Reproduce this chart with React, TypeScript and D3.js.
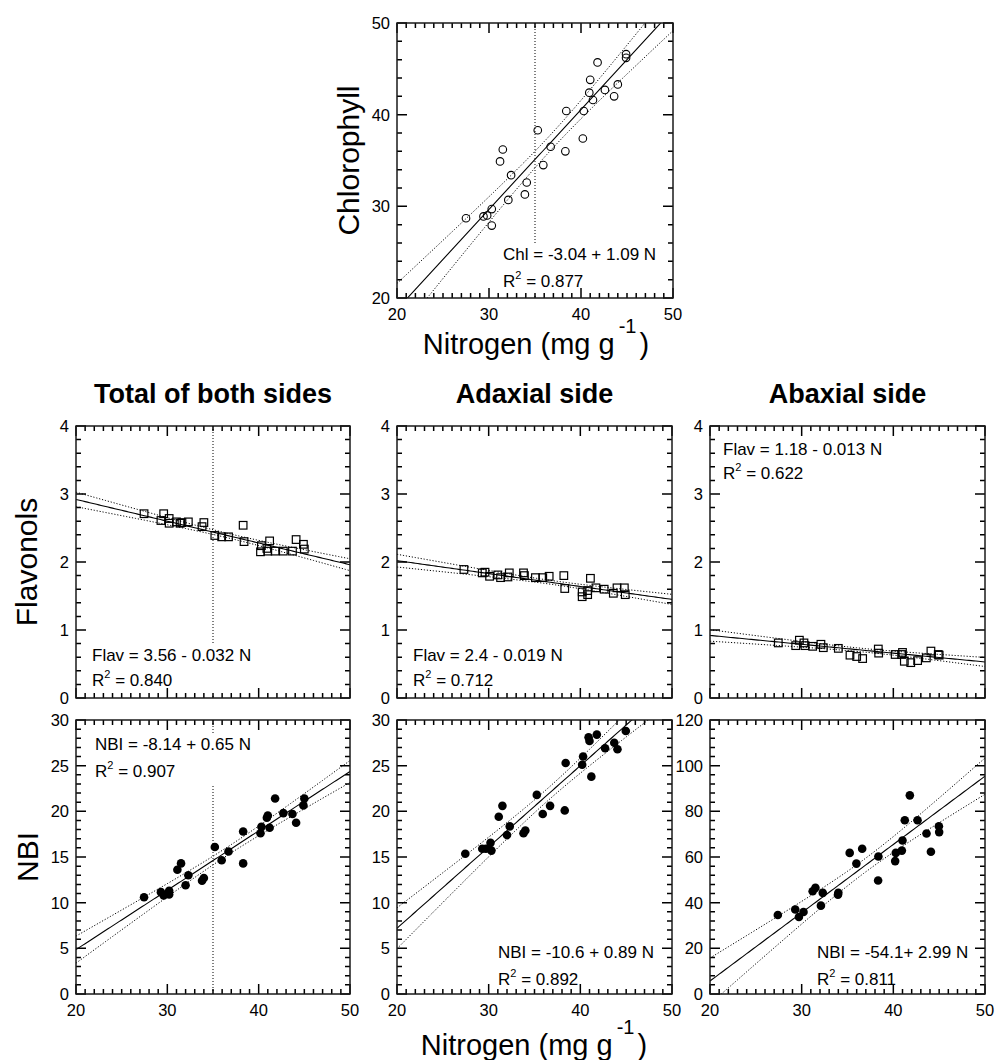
import React from 'react';
import * as d3 from 'd3';

const FONT = "'Liberation Sans', Arial, Helvetica, sans-serif";

// ---------- data ----------
const nChl = [27.5, 29.4, 29.8, 30.3, 30.3, 31.2, 31.5, 32.1, 32.4, 33.9, 34.1, 35.3, 35.9, 36.7, 38.3, 38.4, 40.2, 40.3, 40.9, 41.0, 41.3, 41.8, 42.6, 43.6, 44.0, 44.9, 44.9];
const chl = [28.7, 28.9, 29.0, 29.7, 27.9, 34.9, 36.2, 30.7, 33.4, 31.3, 32.6, 38.3, 34.5, 36.5, 36.0, 40.4, 37.4, 40.4, 42.4, 43.8, 41.6, 45.7, 42.7, 42.0, 43.3, 46.2, 46.6];

const nFlavTotal = [27.45, 29.3, 29.6, 30.2, 30.2, 31.0, 31.4, 31.6, 32.3, 33.8, 34.0, 35.2, 35.95, 36.7, 38.3, 38.4, 40.2, 40.3, 40.9, 41.2, 41.0, 41.8, 42.7, 43.7, 44.1, 44.9, 45.0];
const flavTotal = [2.71, 2.61, 2.71, 2.64, 2.57, 2.59, 2.57, 2.58, 2.59, 2.52, 2.58, 2.39, 2.37, 2.37, 2.54, 2.30, 2.15, 2.24, 2.20, 2.31, 2.16, 2.16, 2.16, 2.16, 2.33, 2.26, 2.19];

const nFlavAdax = [27.3, 29.3, 29.6, 30.1, 31.0, 31.3, 32.1, 32.25, 33.8, 33.9, 35.1, 35.9, 36.6, 38.2, 38.3, 40.2, 40.2, 40.8, 40.8, 41.1, 41.7, 42.6, 43.6, 44.0, 44.8, 44.9];
const flavAdax = [1.89, 1.84, 1.85, 1.79, 1.81, 1.77, 1.78, 1.84, 1.84, 1.80, 1.77, 1.77, 1.79, 1.80, 1.61, 1.56, 1.49, 1.58, 1.52, 1.76, 1.62, 1.60, 1.54, 1.62, 1.62, 1.52];

const nFlavAbax = [27.45, 29.35, 29.75, 30.25, 30.36, 31.2, 32.1, 32.36, 34.0, 35.27, 36.0, 36.65, 38.36, 38.4, 40.2, 40.9, 41.0, 41.2, 41.9, 42.65, 43.6, 44.1, 44.9, 45.0];
const flavAbax = [0.81, 0.77, 0.85, 0.81, 0.77, 0.76, 0.79, 0.74, 0.73, 0.63, 0.61, 0.58, 0.72, 0.66, 0.64, 0.64, 0.67, 0.54, 0.52, 0.55, 0.59, 0.69, 0.64, 0.63];

const nNbiTotal = [27.45, 29.3, 29.6, 30.2, 30.2, 31.1, 31.5, 32.0, 32.3, 33.8, 34.0, 35.2, 35.95, 36.7, 38.3, 38.3, 40.2, 40.3, 40.9, 41.0, 41.2, 41.8, 42.7, 43.7, 44.1, 45.0, 44.9];
const nbiTotal = [10.6, 11.15, 10.8, 11.3, 10.9, 13.6, 14.3, 11.9, 13.0, 12.4, 12.7, 16.1, 14.65, 15.6, 17.8, 14.3, 17.6, 18.3, 19.3, 19.55, 18.2, 21.4, 19.8, 19.7, 18.75, 21.4, 20.65];

const nNbiAdax = [27.45, 29.3, 29.7, 30.2, 30.3, 31.1, 31.5, 32.0, 32.3, 33.8, 34.0, 35.25, 35.9, 36.7, 38.3, 38.4, 40.2, 40.3, 40.9, 41.0, 41.2, 41.8, 42.7, 43.7, 44.05, 44.96];
const nbiAdax = [15.35, 15.9, 15.9, 16.55, 15.7, 19.4, 20.6, 17.4, 18.35, 17.6, 17.9, 21.8, 19.7, 20.6, 20.1, 25.3, 25.1, 26.0, 28.1, 27.7, 23.8, 28.4, 26.9, 27.5, 26.8, 28.8];

const nNbiAbax = [27.4, 29.3, 29.7, 30.2, 31.2, 31.5, 32.1, 32.3, 33.96, 34.0, 35.24, 35.97, 36.6, 38.37, 38.34, 40.2, 40.27, 40.93, 41.0, 41.25, 41.8, 42.64, 43.62, 44.1, 44.97, 45.0];
const nbiAbax = [34.6, 37.0, 33.7, 35.9, 45.0, 46.5, 38.7, 44.3, 43.5, 44.3, 61.8, 57.1, 63.6, 60.2, 49.7, 58.2, 61.8, 62.8, 67.2, 76.1, 87.0, 76.1, 70.3, 62.3, 73.5, 70.9];

// regression coefficients [intercept, slope] as printed
const coefChl = [-3.04, 1.09];
const coefFlavTotal = [3.56, -0.032];
const coefFlavAdax = [2.4, -0.019];
const coefFlavAbax = [1.18, -0.013];
const coefNbiTotal = [-8.14, 0.65];
const coefNbiAdax = [-10.6, 0.89];
const coefNbiAbax = [-54.1, 2.99];

const eqChl = ['Chl = -3.04 + 1.09 N', '0.877'];
const eqFlavTotal = ['Flav = 3.56 - 0.032 N', '0.840'];
const eqFlavAdax = ['Flav = 2.4 - 0.019 N', '0.712'];
const eqFlavAbax = ['Flav = 1.18 - 0.013 N', '0.622'];
const eqNbiTotal = ['NBI = -8.14 + 0.65 N', '0.907'];
const eqNbiAdax = ['NBI = -10.6 + 0.89 N', '0.892'];
const eqNbiAbax = ['NBI = -54.1+ 2.99 N', '0.811'];

const xTickLabels = [20, 30, 40, 50];
const columnTitles = ['Total of both sides', 'Adaxial side', 'Abaxial side'];

type Marker = 'circle' | 'square' | 'dot';

type Box = { x0: number; x1: number; y0: number; y1: number; yDomain: [number, number]; yMajor: number; yMinor: number };

type PanelProps = Box & {
  id: string;
  xs: number[]; ys: number[];
  coef: number[];
  marker: Marker;
  eq: string[];
  eqX: number; eqY: number; eqGap: number;
  vline?: boolean;
  showXLabels?: boolean;
};

function Frame(p: Box) {
  const x = d3.scaleLinear().domain([20, 50]).range([p.x0, p.x1]);
  const y = d3.scaleLinear().domain(p.yDomain).range([p.y1, p.y0]);
  const xTicks = d3.range(20, 50.001, 1);
  const nY = Math.round((p.yDomain[1] - p.yDomain[0]) / p.yMinor);
  const yTicks = d3.range(0, nY + 1).map((k) => p.yDomain[0] + k * p.yMinor);
  const perMaj = Math.round(p.yMajor / p.yMinor);
  const segs: string[] = [];
  xTicks.forEach((v, k) => {
    const L = k % 10 === 0 ? 10 : 5;
    const xx = x(v).toFixed(2);
    segs.push(`M${xx},${p.y1}V${p.y1 - L}`);
    segs.push(`M${xx},${p.y0}V${p.y0 + L}`);
  });
  yTicks.forEach((v, k) => {
    const L = k % perMaj === 0 ? 10 : 5;
    const yy = y(v).toFixed(2);
    segs.push(`M${p.x0},${yy}H${p.x0 + L}`);
    segs.push(`M${p.x1},${yy}H${p.x1 - L}`);
  });
  return (
    <g>
      <path d={segs.join('')} fill="none" stroke="#000" strokeWidth={1.5} />
      <rect x={p.x0} y={p.y0} width={p.x1 - p.x0} height={p.y1 - p.y0} fill="none" stroke="#1a1a1a" strokeWidth={1.5} />
    </g>
  );
}

function Panel(p: PanelProps) {
  const x = d3.scaleLinear().domain([20, 50]).range([p.x0, p.x1]);
  const y = d3.scaleLinear().domain(p.yDomain).range([p.y1, p.y0]);
  const [a, b] = p.coef;
  const n = p.xs.length;
  const xbar = d3.mean(p.xs) as number;
  const sxx = d3.sum(p.xs, (v) => (v - xbar) ** 2);
  const sse = d3.sum(p.xs.map((v, i) => (p.ys[i] - (a + b * v)) ** 2));
  const s = Math.sqrt(sse / (n - 2));
  const t = 2.06;
  const grid = d3.range(20, 50.001, 0.25);
  const fit = (v: number) => a + b * v;
  const half = (v: number) => t * s * Math.sqrt(1 / n + (v - xbar) ** 2 / sxx);
  const mk = (f: (v: number) => number) =>
    d3.line<number>().x((v) => x(v)).y((v) => y(f(v)))(grid) as string;
  const yMajT = d3.range(p.yDomain[0], p.yDomain[1] + 1e-6, p.yMajor);
  const boxW = p.eq[0].length * 8.3 + 6;

  return (
    <g>
      <defs>
        <clipPath id={'clip-' + p.id}>
          <rect x={p.x0} y={p.y0} width={p.x1 - p.x0} height={p.y1 - p.y0} />
        </clipPath>
      </defs>
      <g clipPath={`url(#clip-${p.id})`}>
        {p.vline && (
          <line x1={x(35)} x2={x(35)} y1={p.y0} y2={p.y1} stroke="#000" strokeWidth={1} strokeDasharray="1,2" />
        )}
        <path d={mk((v) => fit(v) + half(v))} fill="none" stroke="#000" strokeWidth={1} strokeDasharray="1.2,1.8" />
        <path d={mk((v) => fit(v) - half(v))} fill="none" stroke="#000" strokeWidth={1} strokeDasharray="1.2,1.8" />
        <path d={mk(fit)} fill="none" stroke="#000" strokeWidth={1.1} />
      </g>
      {p.xs.map((v, i) => {
        const cx = x(v), cy = y(p.ys[i]);
        if (p.marker === 'circle')
          return <circle key={i} cx={cx} cy={cy} r={3.8} fill="none" stroke="#000" strokeWidth={1.1} />;
        if (p.marker === 'square')
          return <rect key={i} x={cx - 3.8} y={cy - 3.8} width={7.6} height={7.6} fill="none" stroke="#000" strokeWidth={1.2} />;
        return <circle key={i} cx={cx} cy={cy} r={4.3} fill="#000" />;
      })}
      <rect x={p.eqX - 3} y={p.eqY - 16} width={boxW} height={p.eqGap + 24} fill="#fff" />
      <text x={p.eqX} y={p.eqY} fontSize={17} fontFamily={FONT} fill="#000">{p.eq[0]}</text>
      <text x={p.eqX} y={p.eqY + p.eqGap} fontSize={17} fontFamily={FONT} fill="#000">
        R<tspan fontSize={11} dy={-8}>2</tspan><tspan dy={8}> = {p.eq[1]}</tspan>
      </text>
      {yMajT.map((v) => (
        <text key={'yl' + v} x={p.x0 - 7} y={y(v)} dy="0.36em" textAnchor="end" fontSize={16.5} fontFamily={FONT} fill="#000">
          {v}
        </text>
      ))}
      {p.showXLabels &&
        xTickLabels.map((v) => (
          <text key={'xl' + v} x={x(v)} y={p.y1 + 22} textAnchor="middle" fontSize={16.5} fontFamily={FONT} fill="#000">
            {v}
          </text>
        ))}
    </g>
  );
}

function XLabel({ cx, y }: { cx: number; y: number }) {
  return (
    <text x={cx} y={y} textAnchor="middle" fontSize={29} fontFamily={FONT} fill="#000">
      Nitrogen (mg g<tspan fontSize={20} dy={-21} dx={4}>-1</tspan><tspan dy={21} dx={3}>)</tspan>
    </text>
  );
}

function YLabel({ x, cy, text }: { x: number; cy: number; text: string }) {
  return (
    <text x={x} y={cy} transform={`rotate(-90, ${x}, ${cy})`} textAnchor="middle" fontSize={30} fontFamily={FONT} fill="#000">
      {text}
    </text>
  );
}

export default function App() {
  const cols = [
    { x0: 76, x1: 350 },
    { x0: 397, x1: 672 },
    { x0: 710, x1: 985 },
  ];
  const flavRow = { y0: 426, y1: 698 };
  const nbiRow = { y0: 720, y1: 994 };
  const topBox: Box = { x0: 397, x1: 673, y0: 23, y1: 298, yDomain: [20, 50], yMajor: 10, yMinor: 2 };
  const flavBox = (i: number): Box => ({ ...cols[i], ...flavRow, yDomain: [0, 4], yMajor: 1, yMinor: 0.2 });
  const nbiBox = (i: number): Box =>
    i < 2
      ? { ...cols[i], ...nbiRow, yDomain: [0, 30], yMajor: 5, yMinor: 1 }
      : { ...cols[i], ...nbiRow, yDomain: [0, 120], yMajor: 20, yMinor: 4 };
  const boxes = [topBox, flavBox(0), flavBox(1), flavBox(2), nbiBox(0), nbiBox(1), nbiBox(2)];
  return (
    <svg width={995} height={1060} style={{ position: 'absolute', left: 0, top: 0, background: '#fff' }}>
      <Panel id="chl" {...topBox}
        xs={nChl} ys={chl} coef={coefChl} marker="circle" eq={eqChl} eqX={503} eqY={260} eqGap={27} vline showXLabels />
      <YLabel x={359} cy={160.5} text="Chlorophyll" />
      <XLabel cx={536} y={354} />

      {columnTitles.map((tt, i) => (
        <text key={tt} x={(cols[i].x0 + cols[i].x1) / 2} y={403} textAnchor="middle" fontSize={27} fontWeight="bold" fontFamily={FONT} fill="#000">
          {tt}
        </text>
      ))}

      <Panel id="ft" {...flavBox(0)}
        xs={nFlavTotal} ys={flavTotal} coef={coefFlavTotal} marker="square" eq={eqFlavTotal} eqX={92} eqY={661} eqGap={25} vline />
      <Panel id="fad" {...flavBox(1)}
        xs={nFlavAdax} ys={flavAdax} coef={coefFlavAdax} marker="square" eq={eqFlavAdax} eqX={413} eqY={661} eqGap={25} />
      <Panel id="fab" {...flavBox(2)}
        xs={nFlavAbax} ys={flavAbax} coef={coefFlavAbax} marker="square" eq={eqFlavAbax} eqX={723} eqY={455} eqGap={24} />

      <Panel id="nt" {...nbiBox(0)}
        xs={nNbiTotal} ys={nbiTotal} coef={coefNbiTotal} marker="dot" eq={eqNbiTotal} eqX={95} eqY={750} eqGap={27} vline showXLabels />
      <Panel id="nad" {...nbiBox(1)}
        xs={nNbiAdax} ys={nbiAdax} coef={coefNbiAdax} marker="dot" eq={eqNbiAdax} eqX={498} eqY={958} eqGap={27} showXLabels />
      <Panel id="nab" {...nbiBox(2)}
        xs={nNbiAbax} ys={nbiAbax} coef={coefNbiAbax} marker="dot" eq={eqNbiAbax} eqX={817} eqY={958} eqGap={27} showXLabels />

      {boxes.map((bx, i) => (
        <Frame key={'frame' + i} {...bx} />
      ))}

      <YLabel x={37} cy={562} text="Flavonols" />
      <YLabel x={38} cy={857} text="NBI" />
      <XLabel cx={534} y={1055} />
    </svg>
  );
}
